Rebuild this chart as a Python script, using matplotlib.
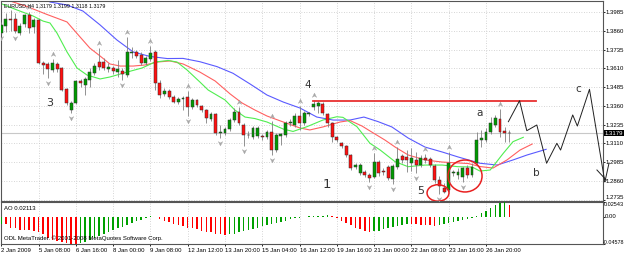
import numpy as np
import matplotlib
matplotlib.use('Agg')
import matplotlib.pyplot as plt
from matplotlib.path import Path
from matplotlib.patches import Ellipse
import matplotlib.transforms as mtransforms

# ---------------- data ----------------
opens = [1.3846,1.3893,1.3943,1.3940,1.3846,1.3906,1.3966,1.3886,1.3933,1.3646,
         1.3640,1.3600,1.3640,1.3613,1.3473,1.3333,1.3380,1.3526,1.3500,1.3533,
         1.3580,1.3653,1.3653,1.3606,1.3613,1.3586,1.3593,1.3566,1.3713,1.3720,
         1.3700,1.3646,1.3673,1.3720,1.3513,1.3440,1.3460,1.3420,1.3386,1.3406,
         1.3420,1.3353,1.3400,1.3360,1.3333,1.3273,1.3306,1.3180,1.3180,1.3206,
         1.3266,1.3320,1.3233,1.3166,1.3153,1.3160,1.3160,1.3153,1.3186,1.3066,
         1.3160,1.3166,1.3246,1.3233,1.3293,1.3246,1.3306,1.3353,1.3360,1.3373,
         1.3306,1.3246,1.3153,1.3113,1.3093,1.3033,1.2953,1.2913,1.2920,1.2900,
         1.2886,1.2986,1.2926,1.2953,1.2873,1.2953,1.3026,1.3020,1.2980,1.3000,
         1.2966,1.3013,1.3006,1.2960,1.2866,1.2813,1.2800,1.2913,1.2900,1.2886,
         1.2946,1.2900,1.2980,1.3133,1.3133,1.3186,1.3233,1.3273,1.3193,1.3179]
highs = [1.3920,1.3980,1.4000,1.3980,1.3913,1.3973,1.3986,1.3946,1.3940,1.3660,
         1.3653,1.3673,1.3653,1.3620,1.3480,1.3393,1.3533,1.3540,1.3553,1.3613,
         1.3646,1.3746,1.3680,1.3646,1.3626,1.3666,1.3613,1.3820,1.3753,1.3733,
         1.3720,1.3693,1.3760,1.3733,1.3533,1.3480,1.3473,1.3433,1.3420,1.3426,
         1.3460,1.3413,1.3406,1.3366,1.3340,1.3320,1.3313,1.3233,1.3220,1.3280,
         1.3346,1.3353,1.3246,1.3193,1.3226,1.3226,1.3173,1.3200,1.3260,1.3180,
         1.3180,1.3260,1.3273,1.3313,1.3360,1.3326,1.3320,1.3400,1.3393,1.3386,
         1.3313,1.3253,1.3160,1.3120,1.3100,1.3040,1.2980,1.2980,1.2933,1.2913,
         1.3046,1.3000,1.2946,1.2966,1.2973,1.3086,1.3040,1.3066,1.3080,1.3053,
         1.3033,1.3040,1.3020,1.2973,1.2893,1.2846,1.3053,1.2933,1.2946,1.2953,
         1.2966,1.2980,1.3186,1.3200,1.3213,1.3286,1.3300,1.3340,1.3220,1.3199]
lows = [1.3846,1.3853,1.3860,1.3846,1.3833,1.3886,1.3846,1.3846,1.3640,1.3573,
        1.3546,1.3586,1.3586,1.3460,1.3366,1.3313,1.3373,1.3486,1.3433,1.3486,
        1.3566,1.3600,1.3600,1.3586,1.3573,1.3553,1.3533,1.3553,1.3680,1.3680,
        1.3633,1.3633,1.3660,1.3466,1.3413,1.3426,1.3406,1.3380,1.3373,1.3333,
        1.3293,1.3340,1.3353,1.3320,1.3246,1.3260,1.3166,1.3146,1.3166,1.3193,
        1.3253,1.3233,1.3093,1.3146,1.3140,1.3146,1.3133,1.3140,1.3033,1.3053,
        1.3100,1.3153,1.3226,1.3220,1.3200,1.3233,1.3293,1.3333,1.3313,1.3300,
        1.3220,1.3120,1.3120,1.3080,1.3020,1.2933,1.2940,1.2900,1.2886,1.2853,
        1.2880,1.2893,1.2900,1.2866,1.2840,1.2940,1.2980,1.2920,1.2926,1.2913,
        1.2953,1.2980,1.2953,1.2846,1.2773,1.2780,1.2786,1.2893,1.2873,1.2853,
        1.2880,1.2886,1.2966,1.3086,1.3120,1.3173,1.3220,1.3153,1.3120,1.3118]
closes = [1.3900,1.3940,1.3936,1.3860,1.3893,1.3966,1.3880,1.3933,1.3646,1.3633,
          1.3606,1.3646,1.3606,1.3466,1.3380,1.3380,1.3526,1.3513,1.3540,1.3586,
          1.3626,1.3620,1.3613,1.3620,1.3593,1.3606,1.3573,1.3720,1.3720,1.3693,
          1.3646,1.3680,1.3713,1.3513,1.3433,1.3460,1.3420,1.3386,1.3406,1.3413,
          1.3353,1.3400,1.3366,1.3333,1.3280,1.3306,1.3180,1.3186,1.3206,1.3266,
          1.3320,1.3246,1.3166,1.3163,1.3213,1.3213,1.3150,1.3186,1.3066,1.3166,
          1.3173,1.3246,1.3253,1.3293,1.3246,1.3313,1.3310,1.3373,1.3380,1.3313,
          1.3246,1.3153,1.3133,1.3093,1.3033,1.2946,1.2966,1.2966,1.2900,1.2880,
          1.2986,1.2913,1.2920,1.2880,1.2960,1.3006,1.3000,1.3000,1.3013,1.2966,
          1.3013,1.3000,1.2966,1.2866,1.2826,1.2786,1.2980,1.2920,1.2920,1.2946,
          1.2900,1.2953,1.3133,1.3146,1.3186,1.3246,1.3280,1.3186,1.3180,1.3179]

frac_up = [6, 11, 21, 27, 32, 40, 51, 58, 64, 67, 80, 85, 91, 96, 107]
frac_dn = [0, 3, 10, 15, 26, 40, 47, 52, 58, 79, 84, 89, 94, 99]

jaw_x = [7.2,10.45,14.1,17.5,21.2,24.8,28.3,31.9,35.6,39.0,42.6,46.3,49.7,53.4,57.0,
         60.5,64.1,67.7,71.2,74.8,77.8,80.8,83.8,87.3,90.9,94.6,98.0,102.7,106.4,
         109.8,112.8,116.9]
jaw_y = [1.4120,1.4053,1.4033,1.3993,1.3900,1.3800,1.3720,1.3690,1.3676,1.3677,
         1.3655,1.3622,1.3578,1.3506,1.3433,1.3386,1.3346,1.3286,1.3266,1.3266,
         1.3286,1.3256,1.3220,1.3146,1.3086,1.3053,1.3020,1.2978,1.2966,1.3000,
         1.3033,1.3071]
teeth_x = [1.87,5.5,9.8,14.1,16.9,19.0,21.2,23.3,25.5,28.3,30.8,33.6,36.2,39.0,42.6,
           45.9,49.1,51.65,54.4,57.0,60.5,64.1,66.2,69.0,72.7,74.8,77.4,79.8,82.3,
           84.5,87.3,90.9,94.6,100.2,102.7,105.5,108.5,111.3,113.9]
teeth_y = [1.4060,1.4023,1.3970,1.3920,1.3820,1.3746,1.3693,1.3640,1.3626,1.3626,
           1.3633,1.3653,1.3660,1.3640,1.3586,1.3526,1.3440,1.3380,1.3333,1.3293,
           1.3253,1.3213,1.3200,1.3220,1.3253,1.3263,1.3226,1.3180,1.3133,1.3086,
           1.3033,1.3000,1.2986,1.2976,1.2956,1.2946,1.3000,1.3066,1.3106]
lips_x = [0.15,3.37,6.8,8.95,10.45,11.95,14.1,16.25,18.4,21.2,23.3,27.0,30.2,33.0,
          35.8,37.7,39.85,42.6,44.4,48.0,50.1,52.3,54.4,57.0,60.5,62.6,65.6,69.0,
          72.0,73.3,76.3,79.1,81.3,84.5,87.3,90.9,94.6,98.0,101.0,102.7,104.9,107.7,
          109.8,112.0]
lips_y = [1.4040,1.4000,1.3960,1.3926,1.3913,1.3846,1.3720,1.3613,1.3566,1.3540,
          1.3553,1.3586,1.3613,1.3653,1.3663,1.3653,1.3600,1.3520,1.3466,1.3400,
          1.3333,1.3286,1.3276,1.3253,1.3206,1.3190,1.3222,1.3266,1.3288,1.3284,
          1.3222,1.3111,1.3066,1.2988,1.2955,1.2966,1.2966,1.2955,1.2953,1.2926,
          1.2933,1.3044,1.3122,1.3151]

ao = [-0.0118,-0.0125,-0.0180,-0.0195,-0.0215,-0.0222,-0.0228,-0.0233,-0.0250,-0.0290,
      -0.0350,-0.0385,-0.0410,-0.0425,-0.0440,-0.0452,-0.04578,-0.0445,-0.0420,-0.0395,
      -0.0360,-0.0330,-0.0290,-0.0260,-0.0225,-0.0185,-0.0165,-0.0135,-0.0100,-0.0070,
      -0.0045,-0.0025,0.0010,0.0008,-0.0030,-0.0060,-0.0090,-0.0120,-0.0140,-0.0160,
      -0.0180,-0.0190,-0.0210,-0.0230,-0.0250,-0.0260,-0.0280,-0.0290,-0.0300,-0.0295,
      -0.0280,-0.0260,-0.0240,-0.0220,-0.0200,-0.0180,-0.0160,-0.0140,-0.0120,-0.0100,
      -0.0080,-0.0060,-0.0040,-0.0020,-0.0010,0.0005,0.0010,0.0015,0.0020,0.0025,
      0.0028,0.0020,-0.0020,-0.0060,-0.0100,-0.0140,-0.0180,-0.0210,-0.0230,-0.0250,
      -0.0245,-0.0230,-0.0210,-0.0190,-0.0170,-0.0150,-0.0130,-0.0115,-0.0120,-0.0125,
      -0.0130,-0.0135,-0.0140,-0.0145,-0.0130,-0.0115,-0.0100,-0.0085,-0.0065,-0.0050,
      -0.0035,-0.0010,0.0010,0.0060,0.0110,0.0160,0.0210,0.0240,0.02543,0.02113]

price_ticks = [1.3985,1.3860,1.3735,1.3610,1.3485,1.3360,1.3235,1.3110,1.2985,1.2860,1.2735]
date_pos = [0,8,16,24,32,40,48,56,64,72,80,88,96,104]
date_labels = ['2 Jan 2009','5 Jan 08:00','6 Jan 16:00','8 Jan 00:00','9 Jan 08:00',
               '12 Jan 12:00','13 Jan 20:00','15 Jan 04:00','16 Jan 12:00','19 Jan 16:00',
               '21 Jan 00:00','22 Jan 08:00','23 Jan 16:00','26 Jan 20:00']
ao_ticks = [0.02543, 0.0, -0.04578]
ao_tick_labels = ['0.02543', '0.00', '-0.04578']

res_level = 1.3395
res_x = [66.9, 114.8]
zz_x = [108.8,111.2,112.75,114.9,117.0,119.2,120.0,122.6,123.6,126.2,129.5,130.4]
zz_y = [1.3255,1.3395,1.3195,1.3233,1.2978,1.3111,1.3066,1.3300,1.3226,1.3471,1.2853,1.2980]
zz2_x = [127.8, 129.8]
zz2_y = [1.2933, 1.2866]
wave_labels = [('3', 10.45, 1.3380, 8), ('4', 65.8, 1.3500, 7.5), ('1', 69.9, 1.2833, 9.5),
               ('5', 89.9, 1.2793, 8), ('a', 102.7, 1.3313, 7.5), ('b', 114.7, 1.2913, 7.5),
               ('c', 123.8, 1.3473, 7.5)]
ellipses = [(99.5, 1.2893, 7.3, 0.0213), (93.7, 1.2780, 4.7, 0.0110)]
last_price = 1.3179

# ---------------- figure ----------------
W, H = 625, 254
fig = plt.figure(figsize=(W/100, H/100), dpi=100)
fig.patch.set_facecolor('white')
SMALL = 'Liberation Sans'
FS = 4.3
TXT = '#000000'
plt.rcParams['font.family'] = ['DejaVu Sans']

def px_axes(l, t, r, b):
    return fig.add_axes([l/W, 1-b/H, (r-l)/W, (b-t)/H])

ax = px_axes(1, 1, 603, 201)
ax2 = px_axes(1, 202, 603, 244)

XL = (-0.06, 129.1)
grid_kw = dict(color='#c8c8c8', lw=0.6, ls=(0, (1, 2)))
for a in (ax, ax2):
    a.set_xlim(*XL)
    for s in a.spines.values():
        s.set_color('#555555'); s.set_linewidth(0.8)
    for p in date_pos:
        a.axvline(p, zorder=0, **grid_kw)

ax.set_ylim(1.27263, 1.40597)
for p in price_ticks:
    ax.axhline(p, zorder=0, **grid_kw)
ax.axhline(last_price, color='#c8c8c8', lw=0.8, zorder=1)

n = len(opens)
idx = np.arange(n)
o = np.array(opens); c = np.array(closes); hi = np.array(highs); lo = np.array(lows)
up = c >= o
ax.vlines(idx, lo, hi, color='#808080', lw=0.6, zorder=3)
ax.bar(idx[up], (c-o)[up], bottom=o[up], width=0.62, color='#009a00',
       edgecolor='#303030', lw=0.35, zorder=4)
ax.bar(idx[~up], (o-c)[~up], bottom=c[~up], width=0.62, color='#ff1010',
       edgecolor='#303030', lw=0.35, zorder=4)

# alligator
ax.plot(jaw_x, jaw_y, color='#5a5aff', lw=0.8, zorder=2)
ax.plot(teeth_x, teeth_y, color='#ff6060', lw=0.8, zorder=2)
ax.plot(lips_x, lips_y, color='#50ee50', lw=0.8, zorder=2)

# fractals
up_path = Path([(0, 1), (0.9, -0.8), (0, -0.2), (-0.9, -0.8), (0, 1)],
               [Path.MOVETO, Path.LINETO, Path.LINETO, Path.LINETO, Path.CLOSEPOLY])
dn_path = Path([(0, -1), (0.9, 0.8), (0, 0.2), (-0.9, 0.8), (0, -1)],
               [Path.MOVETO, Path.LINETO, Path.LINETO, Path.LINETO, Path.CLOSEPOLY])
off_up = ax.transData + mtransforms.ScaledTranslation(0, 5/100, fig.dpi_scale_trans)
off_dn = ax.transData + mtransforms.ScaledTranslation(0, -5/100, fig.dpi_scale_trans)
ax.plot(frac_up, hi[frac_up], ls='none', marker=up_path, ms=3.4, color='#a8a8a8',
        mec='#a8a8a8', mew=0.3, transform=off_up, zorder=5)
ax.plot(frac_dn, lo[frac_dn], ls='none', marker=dn_path, ms=3.4, color='#a8a8a8',
        mec='#a8a8a8', mew=0.3, transform=off_dn, zorder=5)

# annotations
ax.plot(res_x, [res_level]*2, color='#e83030', lw=1.3, zorder=6)
ax.plot(zz_x, zz_y, color='#202020', lw=0.7, zorder=6, clip_on=False)
ax.plot(zz2_x, zz2_y, color='#202020', lw=0.7, zorder=6, clip_on=False)
for t, x, y, fs in wave_labels:
    ax.text(x, y, t, fontsize=fs, color='#333333', ha='center', va='center', zorder=7)
for cx, cy, w, h in ellipses:
    ax.add_patch(Ellipse((cx, cy), w, h, fill=False, ec='#e82020', lw=1.1, zorder=7))

ax.set_xticks([])
ax.set_yticks(price_ticks)
ax.set_yticklabels([f'{p:.4f}' for p in price_ticks], family=SMALL)
ax.tick_params(axis='y', left=False, labelleft=False, right=True, labelright=True,
               length=1.5, width=0.6, pad=0.6, labelsize=FS, colors=TXT)
ax.get_yticklabels()[-1].set_transform(ax.get_yaxis_transform(which='tick2') +
                                       mtransforms.ScaledTranslation(2.1/100, 2.5/100, fig.dpi_scale_trans))
ax.text(1.003, last_price, f'{last_price:.4f}',
        transform=mtransforms.blended_transform_factory(ax.transAxes, ax.transData),
        fontsize=FS, family=SMALL, color='white', ha='left', va='center',
        bbox=dict(facecolor='black', edgecolor='none', pad=0.6), clip_on=False, zorder=10)

# AO
aov = np.array(ao)
col = ['#00a000' if (i > 0 and aov[i] >= aov[i-1]) or i == 0 else '#ff0000' for i in range(n)]
ax2.bar(idx, aov, width=0.32, color=col, zorder=3)
ax2.set_ylim(-0.04578, 0.02543)
ax2.set_yticks(ao_ticks)
ax2.set_yticklabels([])
ax2.tick_params(axis='y', left=False, labelleft=False, right=True, labelright=False,
                length=1.5, width=0.6)
ao_label_dy = [-2.5, 0, 1.5]
ao_label_dx = [0.8, 2.0, 0.2]
ao_label_fs = [4.0, FS, 3.9]
for v, s, dy, dx, fs in zip(ao_ticks, ao_tick_labels, ao_label_dy, ao_label_dx, ao_label_fs):
    ax2.text(1.0, v, s, fontsize=fs, family=SMALL, color=TXT, ha='left', va='center',
             clip_on=False,
             transform=mtransforms.blended_transform_factory(ax2.transAxes, ax2.transData) +
             mtransforms.ScaledTranslation(dx/100, dy/100, fig.dpi_scale_trans))
ax2.set_xticks(date_pos)
ax2.set_xticklabels(date_labels, ha='left', family=SMALL)
ax2.tick_params(axis='x', length=1.5, width=0.6, pad=1.2, labelsize=FS, colors=TXT)

def ftext(x, y, s, fs=FS, **kw):
    fig.text(x/W, 1-y/H, s, fontsize=fs, family=SMALL, color=TXT, va='center', ha='left', **kw)

ftext(4, 6, 'EURUSD,H4 1.3179 1.3199 1.3118 1.3179', fs=3.8)
ftext(4, 209, 'AO 0.02113')
ftext(4, 238, 'ODL MetaTrader. © 2001-2008 MetaQuotes Software Corp.')

fig.savefig('out.png', dpi=100)
